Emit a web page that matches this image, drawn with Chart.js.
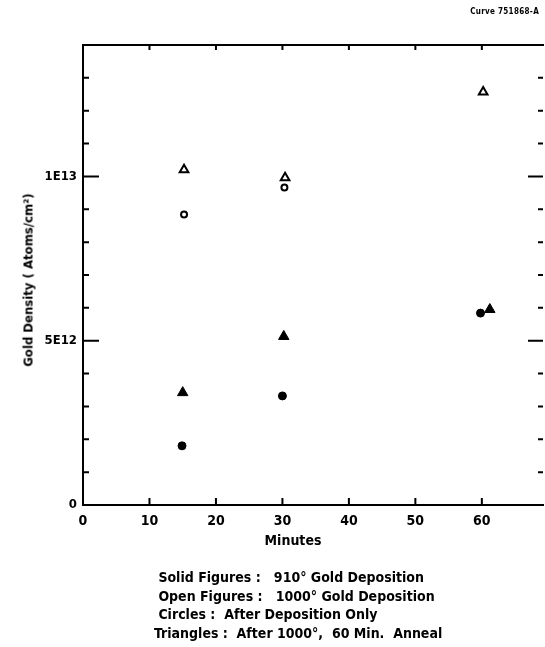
<!DOCTYPE html>
<html>
<head>
<meta charset="utf-8">
<script src="https://cdn.jsdelivr.net/npm/chart.js@4.4.1/dist/chart.umd.min.js"></script>
<style>
  html, body { margin: 0; padding: 0; background: #fff; }
  #wrap { position: relative; width: 545px; height: 647px; overflow: hidden; }
  canvas { position: absolute; left: 0; top: 0; }
  .txt { position: absolute; color: #000; font-family: "Liberation Sans Narrow", "DejaVu Sans Condensed", "Roboto Condensed", sans-serif; font-weight: bold; white-space: nowrap; }
  #curve { right: 6px; top: 7px; font-size: 8px; letter-spacing: 0.3px; }
  #ytitle { left: 28px; top: 280px; font-size: 13px; transform: translate(-50%, -50%) rotate(-90deg); }
  #xtitle { left: 293px; top: 540px; font-size: 14px; transform: translate(-50%, -50%); }
  #notes { left: 154px; top: 568px; font-size: 14px; line-height: 18.5px; }
</style>
</head>
<body>
<div id="wrap">
  <canvas id="c" width="545" height="647"></canvas>
  <div class="txt" id="curve">Curve 751868-A</div>
  <div class="txt" id="ytitle">Gold Density ( Atoms/cm²)</div>
  <div class="txt" id="xtitle">Minutes</div>
  <div class="txt" id="notes">
    <div>&nbsp;Solid Figures :&nbsp;&nbsp; 910° Gold Deposition</div>
    <div>&nbsp;Open Figures :&nbsp;&nbsp; 1000° Gold Deposition</div>
    <div>&nbsp;Circles :&nbsp;&nbsp;After Deposition Only</div>
    <div>Triangles :&nbsp;&nbsp;After 1000°,&nbsp; 60 Min.&nbsp; Anneal</div>
  </div>
</div>
<script>
// ---- data (minutes, atoms/cm^2) ----
const solidCircleMin = [14.9, 30.0, 59.8];
const solidCircleDen = [1.80e12, 3.32e12, 5.84e12];
const solidTriangleMin = [15.0, 30.2, 61.2];
const solidTriangleDen = [3.42e12, 5.13e12, 5.95e12];
const openCircleMin = [15.2, 30.3];
const openCircleDen = [8.84e12, 9.66e12];
const openTriangleMin = [15.2, 30.4, 60.2];
const openTriangleDen = [1.02e13, 9.96e12, 1.257e13];

const xTickLabels = ['0', '10', '20', '30', '40', '50', '60'];
const yTickLabels = { 0: '0', 5: '5E12', 10: '1E13' };

function pts(xs, ys) { return xs.map((x, i) => ({ x: x, y: ys[i] })); }

const FONT = '"Liberation Sans Narrow", "DejaVu Sans Condensed", "Roboto Condensed", sans-serif';

const framePlugin = {
  id: 'frame',
  afterDraw(chart) {
    const ctx = chart.ctx;
    const a = chart.chartArea;
    const xs = chart.scales.x, ys = chart.scales.y;
    ctx.save();
    ctx.strokeStyle = '#000';
    ctx.lineWidth = 2;
    ctx.lineCap = 'square';
    ctx.beginPath();
    ctx.moveTo(a.right, a.top);
    ctx.lineTo(a.left, a.top);
    ctx.lineTo(a.left, a.bottom);
    ctx.lineTo(a.right, a.bottom);
    ctx.stroke();
    ctx.lineCap = 'butt';
    ctx.beginPath();
    ys.ticks.forEach(t => {
      const k = Math.round(t.value / 1e12);
      if (k <= 0 || t.value >= ys.max) return;
      const y = ys.getPixelForValue(t.value);
      const major = k % 5 === 0;
      ctx.moveTo(a.left, y); ctx.lineTo(a.left + (major ? 16 : 6), y);
      ctx.moveTo(a.right, y); ctx.lineTo(a.right - (major ? 15 : 5), y);
    });
    xs.ticks.forEach(t => {
      if (t.value <= 0) return;
      const x = xs.getPixelForValue(t.value);
      ctx.moveTo(x, a.bottom); ctx.lineTo(x, a.bottom - 7);
      ctx.moveTo(x, a.top); ctx.lineTo(x, a.top + 5);
    });
    ctx.stroke();
    ctx.restore();
  }
};

new Chart(document.getElementById('c'), {
  type: 'scatter',
  data: {
    datasets: [
      { label: 'Solid circles', data: pts(solidCircleMin, solidCircleDen), pointStyle: 'circle', pointRadius: 4, backgroundColor: '#000', borderColor: '#000', borderWidth: 1 },
      { label: 'Solid triangles', data: pts(solidTriangleMin, solidTriangleDen), pointStyle: 'triangle', pointRadius: 6, backgroundColor: '#000', borderColor: '#000', borderWidth: 1 },
      { label: 'Open circles', data: pts(openCircleMin, openCircleDen), pointStyle: 'circle', pointRadius: 3, backgroundColor: '#fff', borderColor: '#000', borderWidth: 2 },
      { label: 'Open triangles', data: pts(openTriangleMin, openTriangleDen), pointStyle: 'triangle', pointRadius: 5, backgroundColor: '#fff', borderColor: '#000', borderWidth: 2 }
    ]
  },
  options: {
    responsive: false,
    animation: false,
    events: [],
    layout: { autoPadding: false, padding: { top: 45, right: 2, left: 0, bottom: 0 } },
    plugins: { legend: { display: false }, tooltip: { enabled: false }, title: { display: false } },
    scales: {
      x: {
        type: 'linear', min: 0, max: 69.2,
        grid: { display: false, drawTicks: false },
        border: { display: false },
        afterFit(s) { s.height = 142; s.paddingRight = 0; s.paddingLeft = 0; },
        ticks: {
          stepSize: 10, includeBounds: false, padding: 8, color: '#000',
          font: { family: FONT, size: 14, weight: 'bold' },
          callback: (v) => xTickLabels[Math.round(v / 10)] ?? ''
        }
      },
      y: {
        type: 'linear', min: 0, max: 1.4e13,
        grid: { display: false, drawTicks: false },
        border: { display: false },
        afterFit(s) { s.width = 83; s.paddingTop = 0; s.paddingBottom = 0; },
        ticks: {
          stepSize: 1e12, includeBounds: false, padding: 6, color: '#000', autoSkip: false,
          font: { family: FONT, size: 13, weight: 'bold' },
          callback: (v) => yTickLabels[Math.round(v / 1e12)] ?? ''
        }
      }
    }
  },
  plugins: [framePlugin]
});
</script>
</body>
</html>
